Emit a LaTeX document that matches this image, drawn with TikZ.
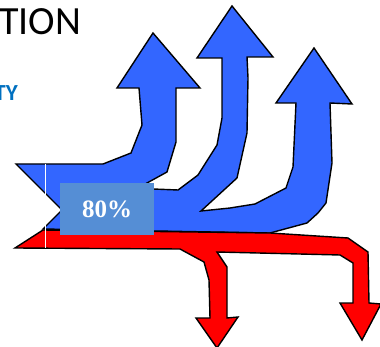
\documentclass[tikz,border=0pt]{standalone}
\usepackage{fontspec}
\setmainfont{Carlito}
\newfontfamily\timesb{Liberation Serif}
\definecolor{flowblue}{RGB}{51,102,255}
\definecolor{flowred}{RGB}{255,0,0}
\definecolor{labelblue}{RGB}{85,142,213}
\definecolor{titleblue}{RGB}{0,112,192}
\begin{document}
\begin{tikzpicture}[x=1pt,y=-1pt,
  flowshape/.style={draw=black,line width=1.4pt,line join=miter},
  labelbox/.style={fill=labelblue,inner sep=0pt,minimum width=94pt,minimum height=52pt,anchor=north west,
    font=\timesb\bfseries\fontsize{25}{25}\selectfont,text=white},
  titletext/.style={inner sep=0pt,font=\fontsize{40}{40}\selectfont},
  subtext/.style={inner sep=0pt,font=\bfseries\fontsize{23}{23}\selectfont,text=titleblue}]
\useasboundingbox (0,0) rectangle (380,347);
\clip (0,0) rectangle (380,347);
% blue flow with three upward arrows
\draw[flowshape,fill=flowblue] (16,164) -- (103,164) -- (131,153) -- (142,125) -- (139,88) -- (117,88)
  -- (153,33) -- (200,88) -- (176,88) -- (176,142) -- (167,172) -- (147,183) -- (138,189)
  -- (153,189) -- (178,190) -- (198,175) -- (217,145) -- (222,118) -- (222,58) -- (197,58)
  -- (232,6) -- (273,57) -- (247,57) -- (248,78) -- (247,133) -- (237,178) -- (201,211)
  -- (230,208) -- (255,204) -- (286,188) -- (293,167) -- (296,103) -- (276,103)
  -- (314,48) -- (352,104) -- (330,103) -- (332,163) -- (326,203) -- (318,213) -- (307,223)
  -- (270,233) -- (43,229) -- (62,210) -- cycle;
% red flow with two downward arrows
\draw[flowshape,fill=flowred] (15,248) -- (43,230) -- (270,233) -- (348,238) -- (368,252)
  -- (369,303) -- (381,304) -- (362,340) -- (340,303) -- (353,303) -- (353,263) -- (340,255)
  -- (217,252) -- (227,267) -- (227,318) -- (238,317) -- (217,348) -- (196,318) -- (210,318)
  -- (209,280) -- (204,262) -- (180,249) -- cycle;
% thin white divider
\coordinate (divtop) at (45.5,164);
\coordinate (divbot) at (45.5,248);
\draw[white,line width=1.3pt] (divtop) -- (divbot);
% label
\node[labelbox] (pct) at (60,183) {80\%};
% title texts
\node[titletext,anchor=base west] (title) at (-1,35) {TION};
\node[subtext,anchor=base east] (sub) at (18,101) {TY};
\end{tikzpicture}
\end{document}
